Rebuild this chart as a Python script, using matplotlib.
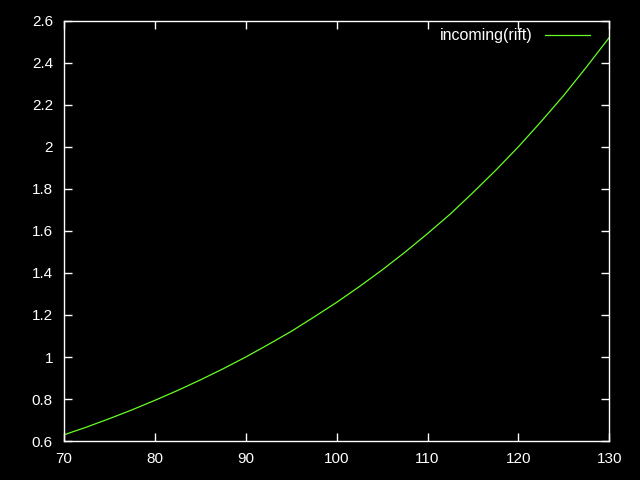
import matplotlib
matplotlib.use('Agg')
import matplotlib.pyplot as plt

# values
x = [70, 72.5, 75, 77.5, 80, 82.5, 85, 87.5, 90, 92.5, 95, 97.5, 100,
     102.5, 105, 107.5, 110, 112.5, 115, 117.5, 120, 122.5, 125, 127.5, 130]
y = [0.63, 0.667, 0.707, 0.749, 0.794, 0.841, 0.891, 0.944, 1.0, 1.06, 1.122, 1.19, 1.26,
     1.335, 1.414, 1.498, 1.587, 1.68, 1.782, 1.888, 2.0, 2.12, 2.245, 2.38, 2.52]
xticks = [70, 80, 90, 100, 110, 120, 130]
yticks = [0.6, 0.8, 1.0, 1.2, 1.4, 1.6, 1.8, 2.0, 2.2, 2.4, 2.6]
ylabels = ['0.6', '0.8', '1', '1.2', '1.4', '1.6', '1.8', '2', '2.2', '2.4', '2.6']

plt.rcParams['font.family'] = ['Liberation Sans', 'DejaVu Sans']

fig = plt.figure(figsize=(6.4, 4.8), dpi=100, facecolor='black')
ax = fig.add_axes([0.1, 0.081, 0.852, 0.876], facecolor='black')

ax.plot(x, y, color='#66ff22', lw=0.9, label='incoming(rift)')

ax.set_xlim(70, 130)
ax.set_ylim(0.6, 2.6)
ax.set_xticks(xticks)
ax.set_yticks(yticks)
ax.set_yticklabels(ylabels)
ax.tick_params(direction='in', length=6, width=1, colors='white', labelsize=11,
               top=True, right=True, pad=8)
for s in ax.spines.values():
    s.set_color('white')
    s.set_linewidth(1)

leg = ax.legend(loc='upper right', bbox_to_anchor=(0.965, 0.982), frameon=False,
                markerfirst=False, fontsize=11.5, handlelength=2.8,
                borderaxespad=0, borderpad=0, handletextpad=0.8)
for t in leg.get_texts():
    t.set_color('white')

fig.savefig('out.png', dpi=100, facecolor='black')
